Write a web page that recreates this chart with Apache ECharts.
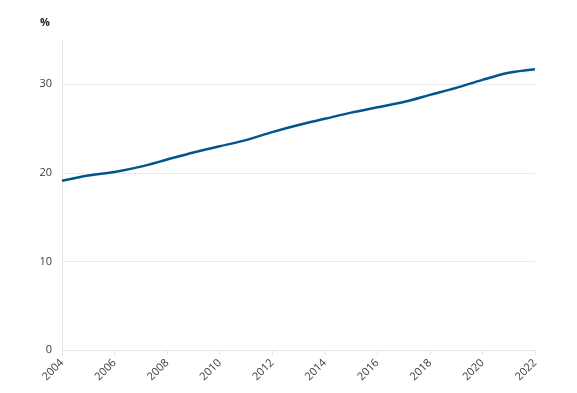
<!DOCTYPE html>
<html><head><meta charset="utf-8">
<script src="https://cdn.jsdelivr.net/npm/echarts@6/dist/echarts.min.js"></script>
<style>html,body{margin:0;padding:0;background:#fff}#c{width:577px;height:393px}</style>
</head><body><div id="c"></div>
<script>
const years = ['2004','2005','2006','2007','2008','2009','2010','2011','2012','2013','2014','2015','2016','2017','2018','2019','2020','2021','2022'];
const values = [19.1,19.7,20.1,20.7,21.5,22.3,23.0,23.7,24.6,25.4,26.1,26.8,27.4,28.0,28.8,29.6,30.5,31.3,31.7];
const unitLabel = '%';
const chart = echarts.init(document.getElementById('c'));
chart.setOption({
  animation:false,
  textStyle:{fontFamily:'Open Sans'},
  grid:{left:62,right:42,top:40,bottom:43,containLabel:false},
  graphic:[{type:'text',left:40,top:17,style:{text:unitLabel,font:'bold 11px "Open Sans"',fill:'#222'}}],
  xAxis:{type:'category',data:years,boundaryGap:false,
    axisLine:{lineStyle:{color:'#e6e6e6'}},
    axisTick:{interval:1,length:5,lineStyle:{color:'#e6e6e6'}},
    axisLabel:{interval:1,rotate:45,color:'#3a3a3a',fontSize:11,margin:11},
    splitLine:{show:false}},
  yAxis:{type:'value',min:0,max:35,interval:10,
    axisLine:{show:true,lineStyle:{color:'#e6e6e6'}},
    axisTick:{show:false},
    axisLabel:{color:'#3a3a3a',fontSize:11,showMaxLabel:false,margin:10},
    splitLine:{lineStyle:{color:'#ebebeb'},showMaxLine:false}},
  series:[{type:'line',data:values,smooth:0.3,symbol:'none',lineStyle:{color:'#00568a',width:2.5}}]
});
</script></body></html>
